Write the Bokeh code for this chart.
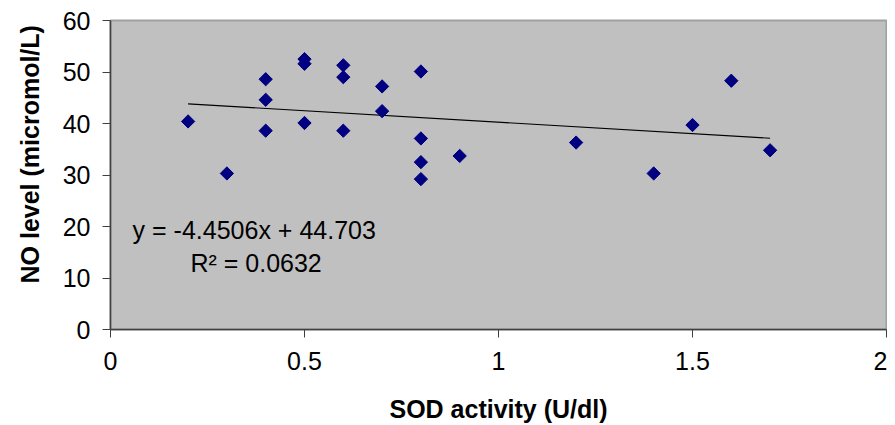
import numpy as np
from bokeh.plotting import figure
from bokeh.models import Range1d, Label, FixedTicker, Title
from bokeh.embed import file_html
from bokeh.resources import INLINE

# SOD activity (U/dl) and NO level (micromol/L)
sod = [0.2, 0.3, 0.4, 0.4, 0.4, 0.5, 0.5, 0.5, 0.6, 0.6, 0.6, 0.7, 0.7,
       0.8, 0.8, 0.8, 0.8, 0.9, 1.2, 1.4, 1.5, 1.6, 1.7]
no_level = [40.4, 30.3, 48.6, 44.6, 38.6, 52.5, 51.6, 40.1, 51.3, 49.0, 38.6, 47.2, 42.4,
            50.1, 37.1, 32.5, 29.2, 33.7, 36.3, 30.3, 39.7, 48.3, 34.8]

# trend line (as reported)
slope = -4.4506
intercept = 44.703
r_squared = 0.0632

x_ticks = [0, 0.5, 1, 1.5, 2]
y_ticks = [0, 10, 20, 30, 40, 50, 60]

x_title = "SOD activity (U/dl)"
y_title = "NO level (micromol/L)"

FONT = "Liberation Sans"

p = figure(width=887, height=425, output_backend="svg", toolbar_location=None,
           x_range=Range1d(0, 2), y_range=Range1d(0, 60),
           min_border_left=110, min_border_right=1, min_border_top=20, min_border_bottom=95)

p.background_fill_color = "#c0c0c0"
p.border_fill_color = "white"
p.outline_line_color = "#a0a0a0"
p.outline_line_width = 2
p.xgrid.visible = False
p.ygrid.visible = False

for ax in (p.xaxis[0], p.yaxis[0]):
    ax.axis_line_color = "#404040"
    ax.axis_line_width = 1.5
    ax.major_tick_line_color = "#404040"
    ax.major_tick_in = 0
    ax.major_tick_out = 8
    ax.minor_tick_line_color = None
    ax.major_label_text_font = FONT
    ax.major_label_text_font_size = "25px"
    ax.major_label_text_color = "black"
    ax.axis_label_text_font = FONT
    ax.axis_label_text_font_size = "25px"
    ax.axis_label_text_font_style = "bold"
    ax.axis_label_text_color = "black"

p.xaxis.ticker = FixedTicker(ticks=x_ticks)
p.yaxis.ticker = FixedTicker(ticks=y_ticks)
p.xaxis.major_label_standoff = 14
p.yaxis.major_label_standoff = 12
p.xaxis.axis_label = x_title
p.xaxis.axis_label_standoff = 22

# y-axis title, shifted upward like the reference
p.add_layout(Title(text=y_title, align="left", offset=46, standoff=28, vertical_align="top",
                   text_font=FONT, text_font_size="25px", text_font_style="bold",
                   text_color="black"), "left")

# trend line
x0, x1 = min(sod), max(sod)
p.line([x0, x1], [slope * x0 + intercept, slope * x1 + intercept], line_color="black", line_width=1.2)

p.scatter(sod, no_level, marker="square", angle=np.pi / 4, size=9.4,
          fill_color="#000080", line_color="#000080")

p.add_layout(Label(x=0.057, y=19.35, text="y = %.4fx + %.3f" % (slope, intercept),
                   text_font=FONT, text_font_size="25px", text_color="black",
                   text_baseline="alphabetic"))
p.add_layout(Label(x=0.206, y=12.97, text="R\u00b2 = %.4f" % r_squared,
                   text_font=FONT, text_font_size="25px", text_color="black",
                   text_baseline="alphabetic"))

open("out.html", "w").write(file_html(p, INLINE))
